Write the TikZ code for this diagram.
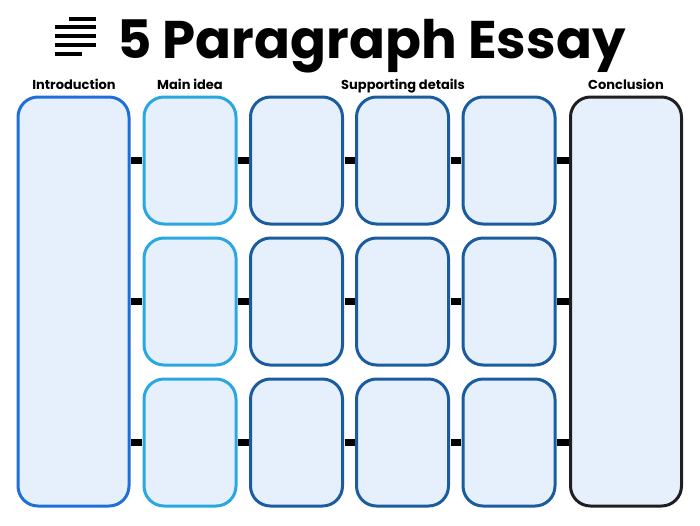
\documentclass[tikz,border=0pt]{standalone}
\usepackage{fontspec}
\setmainfont{Poppins}
\usepackage{tikz}
\usepackage{xcolor}

\definecolor{introblue}{HTML}{1E6FD9}
\definecolor{mainblue}{HTML}{2AA7E0}
\definecolor{suppblue}{HTML}{1A5C9E}
\definecolor{conclgray}{HTML}{1F1F1F}
\definecolor{boxfill}{HTML}{E6F0FD}

\tikzset{
  essaybox/.style={draw, line width=3pt, rounded corners=20pt, fill=boxfill, inner sep=0pt},
  tallbox/.style={essaybox, minimum width=111pt, minimum height=409pt},
  smallbox/.style={essaybox, minimum width=92pt, minimum height=127pt},
  link/.style={black, line width=7pt, shorten >=0.5pt, shorten <=0.5pt},
  colhead/.style={anchor=base, font=\fontsize{13}{15}\selectfont\bfseries},
  iconbar/.style={black, line width=4pt}
}

\begin{document}
\begin{tikzpicture}[x=1pt,y=-1pt]
  \useasboundingbox (0,0) rectangle (700,525);

  % title
  \draw[iconbar] (69,18.5) -- (96,18.5);
  \draw[iconbar] (55,27) -- (96,27);
  \draw[iconbar] (55,36) -- (96,36);
  \draw[iconbar] (55,45) -- (96,45);
  \draw[iconbar] (55,54) -- (82,54);
  \node[anchor=base west, inner sep=0pt, font=\fontsize{53}{58}\selectfont\bfseries] (title) at (117,58) {5 Paragraph Essay};

  % column heads
  \node[colhead] (hintro) at (74,89) {Introduction};
  \node[colhead] (hmain) at (190,89) {Main idea};
  \node[colhead] (hsupp) at (403,89) {Supporting details};
  \node[colhead] (hconcl) at (626,89) {Conclusion};

  % outer boxes
  \node[tallbox, draw=introblue] (intro) at (73.5,301.5) {};
  \node[tallbox, draw=conclgray] (concl) at (626,301.5) {};

  % main ideas
  \node[smallbox, draw=mainblue] (m1) at (190,160.5) {};
  \node[smallbox, draw=mainblue] (m2) at (190,301.5) {};
  \node[smallbox, draw=mainblue] (m3) at (190,442.5) {};

  % supporting details
  \node[smallbox, draw=suppblue] (a1) at (296.5,160.5) {};
  \node[smallbox, draw=suppblue] (b1) at (402.5,160.5) {};
  \node[smallbox, draw=suppblue] (c1) at (509,160.5) {};
  \node[smallbox, draw=suppblue] (a2) at (296.5,301.5) {};
  \node[smallbox, draw=suppblue] (b2) at (402.5,301.5) {};
  \node[smallbox, draw=suppblue] (c2) at (509,301.5) {};
  \node[smallbox, draw=suppblue] (a3) at (296.5,442.5) {};
  \node[smallbox, draw=suppblue] (b3) at (402.5,442.5) {};
  \node[smallbox, draw=suppblue] (c3) at (509,442.5) {};

  % links
  \draw[link] (intro.east |- m1) -- (m1.west);
  \draw[link] (intro.east |- m2) -- (m2.west);
  \draw[link] (intro.east |- m3) -- (m3.west);
  \draw[link] (m1) -- (a1);
  \draw[link] (m2) -- (a2);
  \draw[link] (m3) -- (a3);
  \draw[link] (a1) -- (b1);
  \draw[link] (a2) -- (b2);
  \draw[link] (a3) -- (b3);
  \draw[link] (b1) -- (c1);
  \draw[link] (b2) -- (c2);
  \draw[link] (b3) -- (c3);
  \draw[link] (c1.east) -- (concl.west |- c1);
  \draw[link] (c2.east) -- (concl.west |- c2);
  \draw[link] (c3.east) -- (concl.west |- c3);
\end{tikzpicture}
\end{document}
